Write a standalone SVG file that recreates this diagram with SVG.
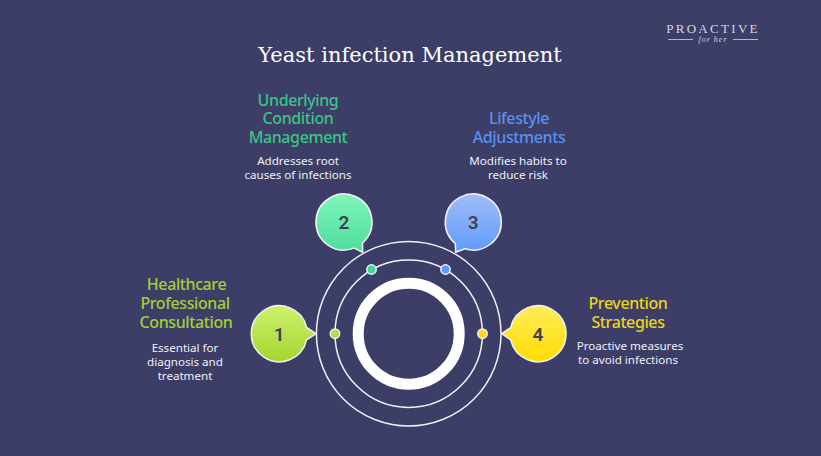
<svg xmlns="http://www.w3.org/2000/svg" width="821" height="456" viewBox="0 0 821 456">
<defs>
<linearGradient id="g1" x1="0" y1="0" x2="0" y2="1"><stop offset="0" stop-color="#cdf26e"/><stop offset="1" stop-color="#a3d62f"/></linearGradient>
<linearGradient id="g2" x1="0" y1="0" x2="0" y2="1"><stop offset="0" stop-color="#7ff5bc"/><stop offset="1" stop-color="#4fdd9c"/></linearGradient>
<linearGradient id="g3" x1="0" y1="0" x2="0" y2="1"><stop offset="0" stop-color="#a0bcf8"/><stop offset="1" stop-color="#5f9bfb"/></linearGradient>
<linearGradient id="g4" x1="0" y1="0" x2="0" y2="1"><stop offset="0" stop-color="#ffec5c"/><stop offset="1" stop-color="#ffdd00"/></linearGradient>
</defs>
<style>
text{font-family:"Noto Sans","Open Sans",sans-serif;text-anchor:middle}
.h{font-size:16px;font-weight:500;letter-spacing:-0.4px}
.d{font-size:11.6px;fill:#f0f0f5}
.n{font-size:19px;font-weight:600;fill:#404050;font-family:Roboto,sans-serif}
.b{stroke:#f2f2f6;stroke-width:1.5;stroke-linejoin:round}
.r{fill:none;stroke:#f2f2f6;stroke-width:1.5}
.dot{stroke:#f2f2f6;stroke-width:1.5}
</style>
<rect width="821" height="456" fill="#3c3e67"/>
<text id="title" x="410" y="62" fill="#fff" style="font-family:'DejaVu Serif',serif;font-size:21px">Yeast infection Management</text>
<g id="logo">
<text x="713" y="33" fill="#d6d6e2" style="font-family:'Liberation Serif',serif;font-size:13px;letter-spacing:2.300px">PROACTIVE</text>
<text x="713" y="41.500" fill="#d6d6e2" style="font-family:'Liberation Serif',serif;font-size:8px;font-style:italic;letter-spacing:1px">for her</text>
<path d="M668 39.500H693M733 39.500H758" stroke="#d6d6e2" stroke-width="0.8" fill="none"/>
</g>
<g id="connectors">
<circle class="r" cx="408.700" cy="333.700" r="92.300"/>
<circle class="r" cx="408.700" cy="333.700" r="73.700"/>
<circle cx="408.700" cy="333.700" r="50.500" fill="none" stroke="#fff" stroke-width="11"/>
</g>
<g id="node1">
<path class="b" fill="url(#g1)" d="M306.600 339.900L316 333.700L306.600 327.500A28 28 0 1 0 306.600 339.900Z"/>
<circle class="dot" cx="335" cy="333.700" r="4.700" fill="#b4df45"/>
<text class="n" x="279.300" y="340.500">1</text>
<text class="h" fill="#a3cf35" x="186.500" y="290">Healthcare</text>
<text class="h" fill="#a3cf35" x="185" y="309">Professional</text>
<text class="h" fill="#a3cf35" x="186" y="327.500">Consultation</text>
<text class="d" x="185" y="352">Essential for</text>
<text class="d" x="185" y="366">diagnosis and</text>
<text class="d" x="185" y="380">treatment</text>
</g>
<g id="node2">
<path class="b" fill="url(#g2)" d="M354 248.150L362.700 252.300L362.500 243A28 28 0 1 0 354 248.150Z"/>
<circle class="dot" cx="371.500" cy="269.500" r="4.700" fill="#44d797"/>
<text class="n" x="344" y="229">2</text>
<text class="h" fill="#3cc487" x="298" y="105.500">Underlying</text>
<text class="h" fill="#3cc487" x="298" y="124">Condition</text>
<text class="h" fill="#3cc487" x="298" y="142.500">Management</text>
<text class="d" x="298" y="165">Addresses root</text>
<text class="d" x="298" y="179">causes of infections</text>
</g>
<g id="node3">
<path class="b" fill="url(#g3)" d="M455.300 243.450L455.700 252.300L465 248.740A28 28 0 1 0 455.300 243.450Z"/>
<circle class="dot" cx="445.500" cy="269.500" r="4.700" fill="#5f9bfb"/>
<text class="n" x="473.300" y="229">3</text>
<text class="h" fill="#5a90f0" x="519" y="124">Lifestyle</text>
<text class="h" fill="#5a90f0" x="519" y="142.500">Adjustments</text>
<text class="d" x="518" y="165">Modifies habits to</text>
<text class="d" x="518" y="179">reduce risk</text>
</g>
<g id="node4">
<path class="b" fill="url(#g4)" d="M510.700 327.500L501.700 333.700L510.700 339.900A28 28 0 1 0 510.700 327.500Z"/>
<circle class="dot" cx="482.500" cy="333.700" r="4.700" fill="#ffd91a"/>
<text class="n" x="538" y="340.500">4</text>
<text class="h" fill="#ecd51a" x="628" y="309">Prevention</text>
<text class="h" fill="#ecd51a" x="628" y="327.500">Strategies</text>
<text class="d" x="630" y="350">Proactive measures</text>
<text class="d" x="628" y="364">to avoid infections</text>
</g>
</svg>
